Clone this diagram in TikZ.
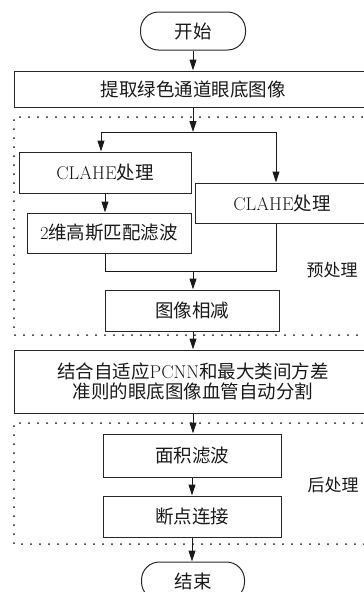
\documentclass[tikz,border=0pt]{standalone}
\usepackage{fontspec}
\newfontfamily\cjk{Noto Sans CJK SC}
\usetikzlibrary{arrows.meta,calc}
\begin{document}
\begin{tikzpicture}[x=1pt,y=-1pt,
  line width=1pt,
  box/.style={draw=black!85, rectangle, inner sep=0pt, font=\fontsize{18.5}{20}\selectfont, text=black!90},
  term/.style={box, rounded corners=18pt},
  arr/.style={draw=black!90, -{Triangle[length=11pt,width=7pt]}},
  conn/.style={draw=black!90},
  dotbox/.style={draw=black!90, line width=2pt, dash pattern=on 0pt off 9pt, line cap=round},
  lab/.style={font=\fontsize{17}{20}\selectfont, text=black!90, inner sep=0pt}
]
\useasboundingbox (0,0) rectangle (364,592);
\clip (0,0) rectangle (364,592);

\node[term, minimum width=105pt, minimum height=38pt] (start) at (193,31) {\cjk 开始};
\node[box, minimum width=358pt, minimum height=36pt] (b1) at (193,89) {\cjk 提取绿色通道眼底图像};
\draw[dotbox] (380,117) -- (14,117) -- (14,335) -- (380,335);
\coordinate (split) at (193,132);
\coordinate (sl) at (101,132);
\coordinate (sr) at (276,132);
\node[box, minimum width=172pt, minimum height=41pt] (c1) at (105,172.5) {CLAHE{\cjk 处理}};
\node[box, minimum width=174pt, minimum height=40pt] (c2) at (282,203) {CLAHE{\cjk 处理}};
\node[box, minimum width=164pt, minimum height=40pt] (g) at (109,233) {2{\cjk 维高斯匹配滤波}};
\coordinate (merge) at (193,271);
\coordinate (ml) at (105,271);
\coordinate (mr) at (276,271);
\node[box, minimum width=174pt, minimum height=41pt] (sub) at (192,310.5) {\cjk 图像相减};
\node[lab] (pre) at (332,270) {\cjk 预处理};
\node[box, minimum width=358pt, minimum height=63pt, align=center] (pcnn) at (193,381.5) {{\cjk 结合自适应}PCNN{\cjk 和最大类间方差}\\{\cjk 准则的眼底图像血管自动分割}};
\draw[dotbox] (380,423) -- (14,423) -- (14,544) -- (380,544);
\node[box, minimum width=178pt, minimum height=43pt] (area) at (192,455.5) {\cjk 面积滤波};
\node[box, minimum width=178pt, minimum height=41pt] (brk) at (192,516.5) {\cjk 断点连接};
\node[lab] (post) at (333,485) {\cjk 后处理};
\node[term, minimum width=103pt, minimum height=38pt] (end) at (193,581) {\cjk 结束};

\draw[arr] (start.south) -- (start.south |- b1.north);
\draw[arr] (b1.south -| split) -- (split);
\draw[conn] (sl) -- (sr);
\draw[arr] (sl) -- (sl |- c1.north);
\draw[arr] (sr) -- (sr |- c2.north);
\draw[arr] (c1.south) -- (c1.south |- g.north);
\draw[conn] (g.south -| ml) -- (ml) -- (mr) -- (c2.south -| mr);
\draw[arr] (merge) -- (merge |- sub.north);
\draw[arr] (sub.south -| merge) -- (merge |- pcnn.north);
\draw[arr] (pcnn.south) -- (pcnn.south |- area.north);
\draw[arr] (area.south) -- (area.south |- brk.north);
\draw[arr] (brk.south) -- (brk.south |- end.north);
\end{tikzpicture}
\end{document}
